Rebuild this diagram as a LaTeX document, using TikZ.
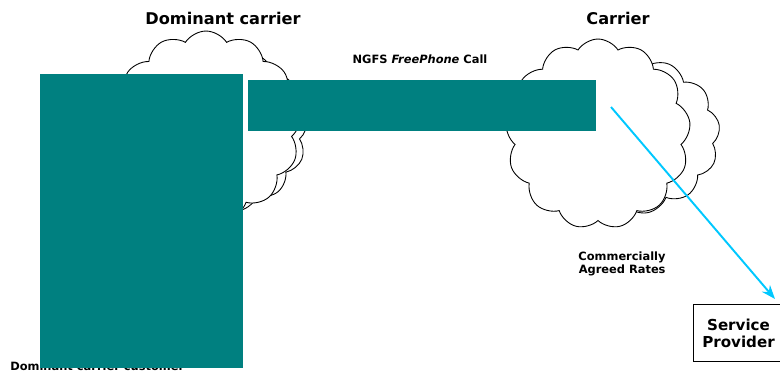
\documentclass[tikz,border=0pt]{standalone}
\usepackage{fontspec}
\setmainfont{DejaVu Sans}
\usepackage{xcolor}
\usetikzlibrary{arrows.meta,positioning,shapes.symbols}

\definecolor{tealblock}{RGB}{0,128,128}
\definecolor{linkcyan}{RGB}{0,200,255}

\begin{document}
\begin{tikzpicture}[
  x=0.02cm, y=-0.02cm, >=Stealth,
  title/.style={font=\bfseries\fontsize{9.2}{10}\selectfont},
  small/.style={font=\bfseries\fontsize{6.5}{7.6}\selectfont, align=right},
  net/.style={cloud, cloud puffs=13, cloud puff arc=115, aspect=1, draw=black, line width=0.5pt, fill=white, inner sep=0pt},
  block/.style={fill=tealblock, draw=none, inner sep=0pt},
  arrow/.style={->, line width=1.1pt, linkcyan}
]
\useasboundingbox (0,0) rectangle (780,372);

% titles
\node[title] (domT) at (223,18) {Dominant carrier};
\node[title] (carT) at (618,18) {Carrier};

% clouds
\node[net, minimum width=3.5cm, minimum height=3.3cm] (domB) at (220,130) {};
\node[net, minimum width=3.8cm, minimum height=3.8cm] (dom) at (206,126) {};
\node[net, minimum width=3.8cm, minimum height=3.2cm] (carB) at (625,135) {};
\node[net, minimum width=3.7cm, minimum height=3.8cm] (car) at (598,134) {};

% customer text sits behind the block
\node[font=\bfseries\fontsize{6.5}{7.6}\selectfont, anchor=base west, inner sep=0pt] (cust) at (10,370) {Dominant carrier customer};

% teal blocks
\node[block, minimum width=4.06cm, minimum height=5.88cm, anchor=north west] (custbox) at (40,74) {};
\node[block, minimum width=6.96cm, minimum height=1.02cm, anchor=north west] (call) at (248,80) {};

\node[small] (callT) at (420,59) {NGFS \textit{FreePhone} Call};
\node[small] (rates) at (622,264) {Commercially\\Agreed Rates};

% service provider
\node[draw=black, line width=0.6pt, font=\bfseries\fontsize{8.6}{9.6}\selectfont, align=center,
      minimum width=1.8cm, minimum height=1.14cm, anchor=north west] (sp) at (693,304) {Service\\Provider};

\coordinate (spin) at (775,299);
\coordinate (carin) at (611,107);
\draw[arrow] (carin) -- (spin);

\end{tikzpicture}
\end{document}
